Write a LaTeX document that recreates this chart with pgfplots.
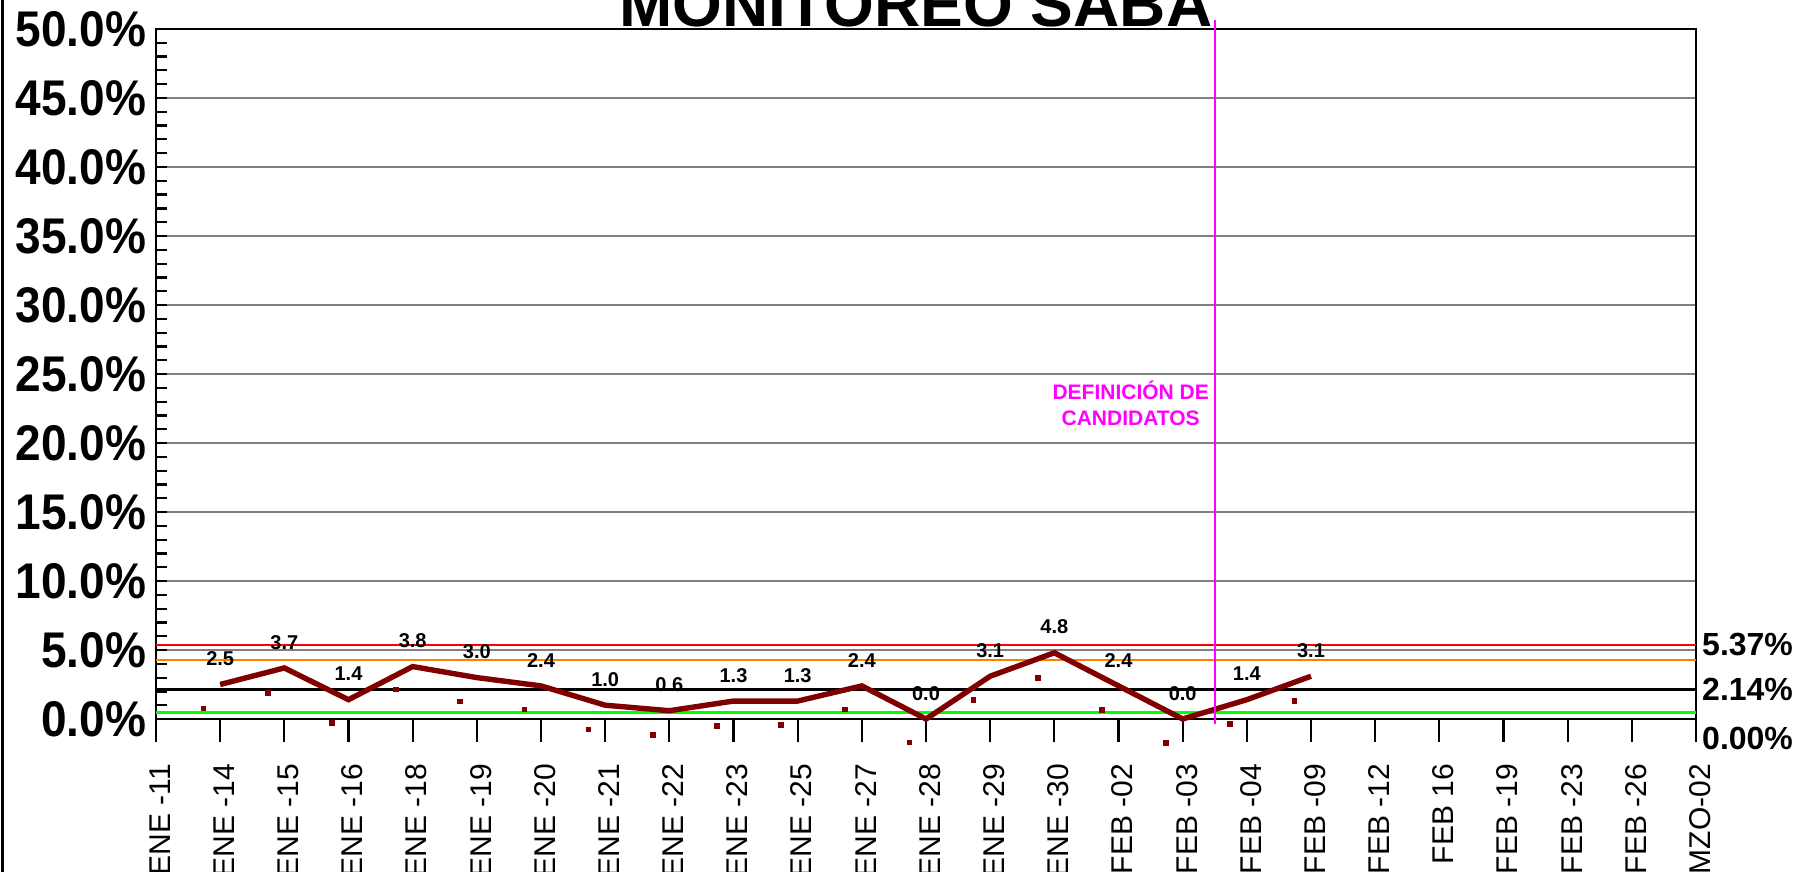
\documentclass[border=0pt]{standalone}
\usepackage{fontspec}
\setmainfont{Liberation Sans}
\usepackage{graphicx}
\usepackage{pgfplots}
\pgfplotsset{compat=1.18}
\usepackage{pgfplotstable}
\definecolor{maroon}{HTML}{800000}
\definecolor{lineorange}{HTML}{FF8000}
\definecolor{linegreen}{HTML}{00FF00}
\definecolor{mag}{HTML}{FF00FF}
\definecolor{gridgray}{HTML}{808080}
\newcommand\yl[1]{\scalebox{1}[1.09]{#1}}

\pgfplotstableread{
x y lab
1 2.5 2.5
2 3.7 3.7
3 1.4 1.4
4 3.8 3.8
5 3.0 3.0
6 2.4 2.4
7 1.0 1.0
8 0.6 0.6
9 1.3 1.3
10 1.3 1.3
11 2.4 2.4
12 0.0 0.0
13 3.1 3.1
14 4.8 4.8
15 2.4 2.4
16 0.0 0.0
17 1.4 1.4
18 3.1 3.1
}\mainseries

\pgfplotstableread{
x y
0.74 0.77
1.74 1.90
2.74 -0.31
3.74 2.14
4.74 1.28
5.74 0.70
6.74 -0.75
7.74 -1.13
8.74 -0.48
9.74 -0.41
10.74 0.70
11.74 -1.69
12.74 1.37
13.74 3.00
14.74 0.65
15.74 -1.73
16.74 -0.36
17.74 1.33
}\dotseries

\begin{document}
\begin{tikzpicture}
\begin{axis}[
  at={(0,0)}, anchor=south west,
  scale only axis, width=770bp, height=345bp,
  xmin=0, xmax=24, ymin=0, ymax=50,
  clip=false,
  axis line style={line width=1.4bp, black},
  tick pos=left,
  xtick={0,...,24},
  xticklabels={ENE -11,ENE -14,ENE -15,ENE -16,ENE -18,ENE -19,ENE -20,ENE -21,ENE -22,ENE -23,ENE -25,ENE -27,ENE -28,ENE -29,ENE -30,FEB -02,FEB -03,FEB -04,FEB -09,FEB -12,FEB 16,FEB -19,FEB -23,FEB -26,MZO-02},
  xticklabel style={xshift=2bp, rotate=90, anchor=east, inner sep=0pt, font=\fontsize{15bp}{15bp}\selectfont},
  xticklabel shift=17bp,
  xtick align=outside,
  ytick align=inside,
  major tick length=5.3bp,
  minor tick length=5.3bp,
  xtick style={/pgfplots/major tick length=11.5bp, line width=1.1bp, black},
  ytick style={line width=1.1bp, black},
  ytick={0,5,...,50},
  yticklabels={\yl{0.0\%},\yl{5.0\%},\yl{10.0\%},\yl{15.0\%},\yl{20.0\%},\yl{25.0\%},\yl{30.0\%},\yl{35.0\%},\yl{40.0\%},\yl{45.0\%},\yl{50.0\%}},
  yticklabel style={anchor=east, inner sep=0pt, xshift=-4.7bp, font=\fontsize{23bp}{23bp}\selectfont\bfseries},
  minor y tick num=4,
  ymajorgrids,
  major grid style={gridgray, line width=0.8bp},
]
% reference lines
\addplot[linegreen, line width=1.5bp] coordinates {(0,0.5) (24,0.5)};
\addplot[black, line width=1.1bp] coordinates {(0,2.14) (24,2.14)};
\addplot[lineorange, line width=1.1bp] coordinates {(0,4.27) (24,4.27)};
\addplot[red, line width=1.1bp] coordinates {(0,5.37) (24,5.37)};
% small dots
\addplot[only marks, mark=square*, mark size=1.2bp, color=maroon] table[x=x, y=y] {\dotseries};
% main series
\addplot[maroon, line width=2.7bp, mark=none,
  point meta=explicit symbolic,
  nodes near coords,
  every node near coord/.append style={anchor=south, inner sep=0pt, yshift=8bp, text=black, font=\fontsize{10bp}{10bp}\selectfont\bfseries}
] table[x=x, y=y, meta=lab] {\mainseries};
% definition line
\addplot[mag, line width=1.1bp] coordinates {(16.5,-0.36) (16.5,50.65)};
\node[align=center, text=mag, font=\fontsize{10.5bp}{13bp}\selectfont\bfseries] at (axis cs:15.19,22.9) {DEFINICIÓN DE\\CANDIDATOS};
% right labels
\node[anchor=west, inner sep=0pt, font=\fontsize{16bp}{16bp}\selectfont\bfseries] at (axis cs:24,5.37) [xshift=2.9bp] {5.37\%};
\node[anchor=west, inner sep=0pt, font=\fontsize{16bp}{16bp}\selectfont\bfseries] at (axis cs:24,2.14) [xshift=2.9bp] {2.14\%};
\node[anchor=north west, inner sep=0pt, font=\fontsize{16bp}{16bp}\selectfont\bfseries] at (axis cs:24,0) [xshift=2.9bp, yshift=-3.9bp] {0.00\%};
% title
\node[anchor=base, inner sep=0pt, font=\fontsize{32bp}{32bp}\selectfont\bfseries] at (rel axis cs:0.4935,1) [yshift=1.5bp] {MONITOREO SABA};
\end{axis}
\pgfresetboundingbox
\path[use as bounding box] (-78bp,-76.5bp) rectangle (820bp,359.5bp);
\draw[line width=1.2bp] (-76.8bp,-76.5bp) -- (-76.8bp,359.5bp);
\end{tikzpicture}
\end{document}
